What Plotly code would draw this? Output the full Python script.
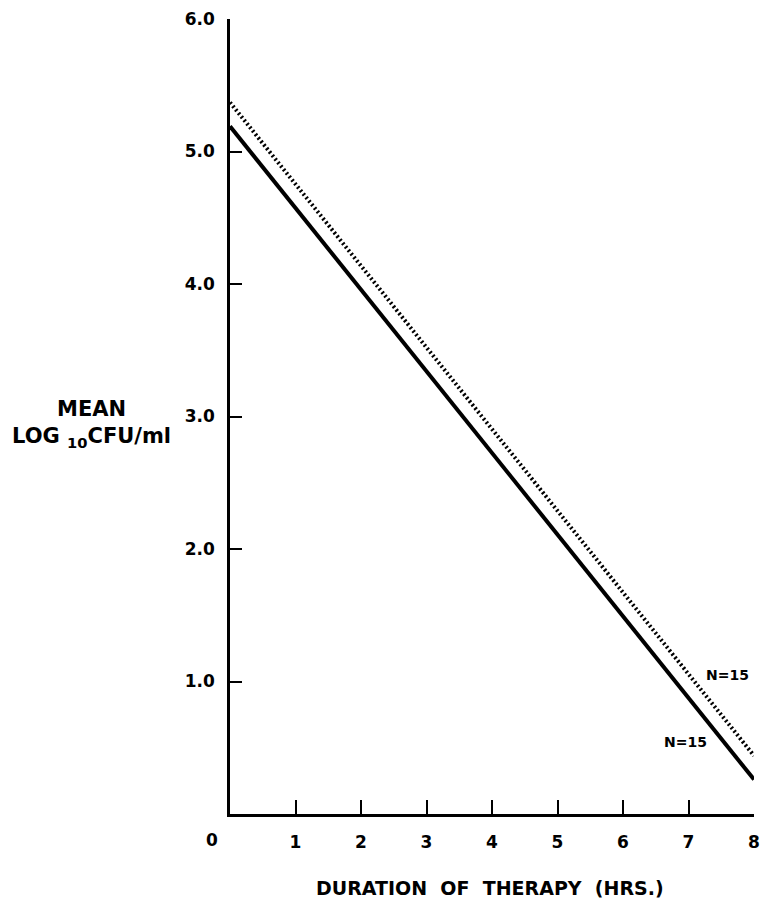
import plotly.graph_objects as go

# Data
hours = [0, 8]
solid_series = [5.19, 0.26]
dotted_series = [5.37, 0.44]
x_ticks = [1, 2, 3, 4, 5, 6, 7, 8]
y_ticks = [1.0, 2.0, 3.0, 4.0, 5.0, 6.0]
y_tick_text = ["1.0", "2.0", "3.0", "4.0", "5.0", "6.0"]
n_labels = ["N=15", "N=15"]

FONT = "DejaVu Sans"

fig = go.Figure()
fig.add_trace(go.Scatter(x=hours, y=dotted_series, mode="lines",
                         line=dict(color="black", width=4, dash="2px,2.5px"),
                         showlegend=False, hoverinfo="skip"))
fig.add_trace(go.Scatter(x=hours, y=solid_series, mode="lines",
                         line=dict(color="black", width=4),
                         showlegend=False, hoverinfo="skip"))

fig.update_layout(
    width=769, height=904,
    margin=dict(l=230, r=9, t=19, b=90),
    paper_bgcolor="white", plot_bgcolor="white",
    font=dict(family=FONT, color="black"),
    xaxis=dict(range=[0, 8], tickvals=x_ticks, showgrid=False, zeroline=False,
               showline=True, linecolor="black", linewidth=2.5,
               ticks="inside", ticklen=14, tickwidth=2, tickcolor="black",
               ticklabelstandoff=11,
               tickfont=dict(family=FONT, size=17, color="black", weight="bold")),
    yaxis=dict(range=[0, 6.0], tickvals=y_ticks, ticktext=y_tick_text,
               showgrid=False, zeroline=False,
               showline=True, linecolor="black", linewidth=2.5,
               ticks="inside", ticklen=12, tickwidth=2, tickcolor="black",
               ticklabelstandoff=9,
               tickfont=dict(family=FONT, size=17, color="black", weight="bold")),
)

fig.add_annotation(x=0, y=0, xref="x", yref="y", text="0", showarrow=False,
                   xshift=-18, yshift=-26,
                   font=dict(family=FONT, size=17, color="black", weight="bold"))

fig.add_annotation(x=7.59, y=1.05, xref="x", yref="y", text=n_labels[0],
                   showarrow=False,
                   font=dict(family=FONT, size=14, color="black", weight="bold"))
fig.add_annotation(x=6.96, y=0.54, xref="x", yref="y", text=n_labels[1],
                   showarrow=False,
                   font=dict(family=FONT, size=14, color="black", weight="bold"))

fig.add_annotation(x=-0.265, y=0.491, xref="paper", yref="paper",
                   text="MEAN<br>LOG <sub>10</sub>CFU/ml", showarrow=False,
                   align="center", xanchor="center", yanchor="middle",
                   font=dict(family=FONT, size=21, color="black", weight="bold"))

fig.add_annotation(x=0.497, y=-0.093, xref="paper", yref="paper",
                   text="DURATION  OF  THERAPY  (HRS.)", showarrow=False,
                   xanchor="center", yanchor="middle",
                   font=dict(family=FONT, size=19, color="black", weight="bold"))

fig.write_html("out.html")
